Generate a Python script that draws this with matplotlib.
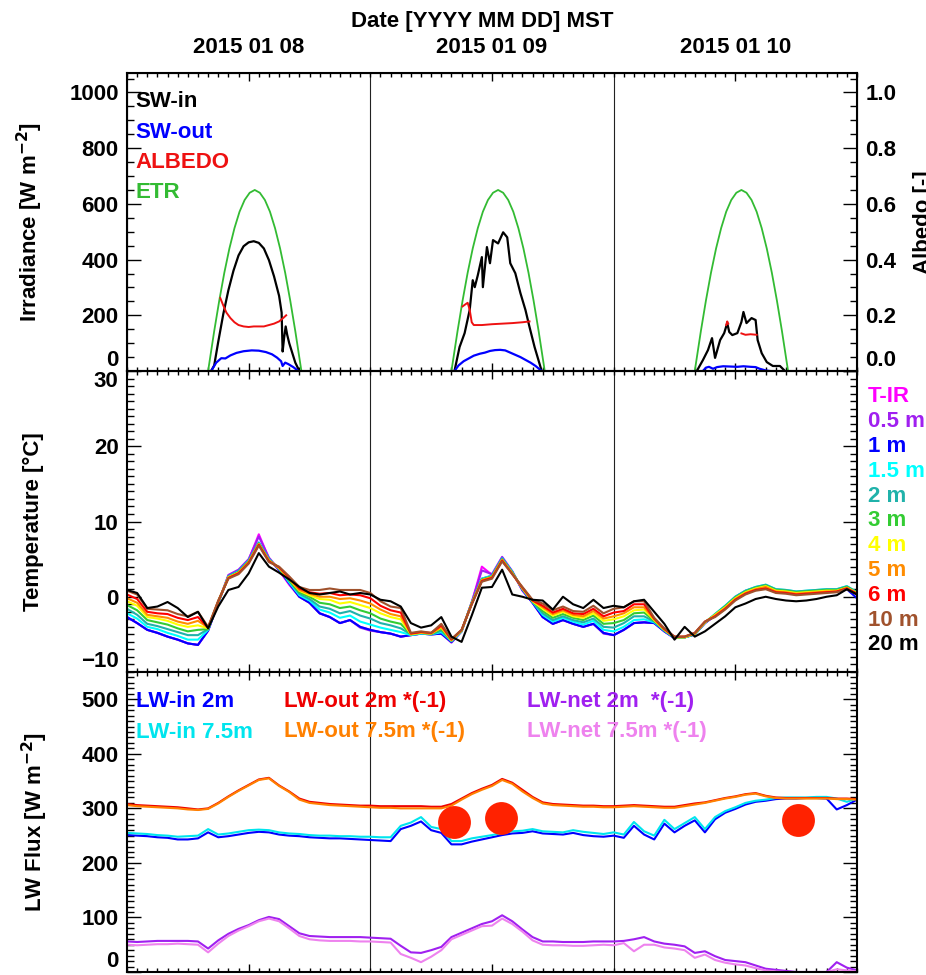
import numpy as np
import matplotlib
matplotlib.use("Agg")
import matplotlib.pyplot as plt
from matplotlib.ticker import MultipleLocator, FixedLocator

plt.rcParams['font.family'] = ['Liberation Sans', 'DejaVu Sans']
plt.rcParams['font.weight'] = 'bold'
plt.rcParams['font.size'] = 16
plt.rcParams['mathtext.default'] = 'bf'

# hours since 2015-01-08 00:00 MST
hours = np.arange(0, 73)
day_bounds = [24, 48]
noon_ticks = [12, 36, 60]
date_labels = ['2015 01 08', '2015 01 09', '2015 01 10']

# ---- shortwave panel (NaN splits the days)
swin_h = [8.3, 8.6, 9.0, 9.5, 10.0, 10.5, 11.0, 11.5, 12.0, 12.5, 13.0, 13.5, 14.0, 14.5, 15.0,
          15.25, 15.35, 15.5, 15.65, 15.8, 16.0, 16.3, 16.6, 17.0, np.nan,
          32.3, 32.8, 33.3, 33.8, 34.1, 34.3, 34.6, 35.0, 35.1, 35.5, 35.8, 36.1, 36.6, 37.1,
          37.5, 37.8, 38.3, 38.8, 39.3, 39.7, 40.2, 40.9, np.nan,
          56.2, 56.8, 57.3, 57.7, 58.0, 58.5, 58.9, 59.2, 59.4, 59.7, 60.2, 60.6, 60.8, 61.1,
          61.6, 62.0, 62.2, 62.6, 63.1, 63.7, 64.4, 64.9]
swin = [0, 20, 105, 205, 290, 360, 415, 448, 462, 466, 460, 440, 398, 340, 270,
        210, 70, 120, 160, 130, 100, 65, 30, 0, np.nan,
        0, 86, 136, 219, 326, 301, 344, 409, 301, 445, 387, 470, 458, 498,
        480, 387, 351, 280, 219, 158, 86, 0, np.nan,
        0, 39, 75, 118, 47, 111, 136, 172, 140, 129, 136, 176, 212, 172,
        190, 183, 111, 64, 32, 18, 18, 0]

swout_h = [8.3, 8.8, 9.3, 9.7, 10.2, 10.8, 11.5, 12.3, 13.0, 13.7, 14.3, 14.8, 15.2, 15.35,
           15.6, 15.9, 16.4, 16.9, np.nan,
           32.3, 32.7, 33.2, 33.7, 34.2, 34.8, 35.3, 35.8, 36.3, 36.8, 37.3, 37.8, 38.3, 38.8,
           39.3, 39.8, 40.3, 40.9, np.nan,
           56.8, 57.1, 57.4, 57.8, 58.2, 58.8, 59.5, 60.2, 60.8, 61.5, 62.0, 62.4, 63.0, 63.4]
swout = [0, 30, 46, 45, 56, 65, 71, 74, 73, 68, 60, 48, 35, 18, 30, 25, 14, 0, np.nan,
         0, 20, 35, 45, 55, 62, 66, 72, 75, 76, 74, 66, 58, 50, 40, 30, 18, 0, np.nan,
         0, 12, 15, 8, 14, 17, 16, 15, 17, 15, 14, 8, 2, 0]

albedo_h = [9.2, 9.5, 9.8, 10.2, 10.6, 11.0, 11.5, 12.0, 12.5, 13.0, 13.5, 14.0, 14.5, 15.0,
            15.4, 15.7, np.nan,
            33.1, 33.4, 33.6, 33.8, 34.0, 34.2, 35.0, 36.0, 37.0, 38.0, 39.0, 39.7, np.nan,
            59.1, 59.2, 59.3, np.nan, 60.6, 61.0, 61.5, 62.1]
albedo = [0.262, 0.235, 0.21, 0.19, 0.175, 0.165, 0.16, 0.158, 0.16, 0.16, 0.16, 0.165, 0.17,
          0.178, 0.19, 0.2, np.nan,
          0.232, 0.24, 0.245, 0.22, 0.175, 0.165, 0.165, 0.168, 0.17, 0.172, 0.175, 0.178, np.nan,
          0.165, 0.178, 0.17, np.nan, 0.135, 0.13, 0.132, 0.13]

# extraterrestrial radiation around solar noon (hours from noon)
etr_offset = [-4.6, -4.5, -4.0, -3.5, -3.0, -2.5, -2.0, -1.5, -1.0, -0.5, 0.0,
              0.5, 1.0, 1.5, 2.0, 2.5, 3.0, 3.5, 4.0, 4.5, 4.6]
etr_vals = [0, 24, 143, 253, 353, 440, 513, 572, 614, 640, 650,
            640, 614, 572, 513, 440, 353, 253, 143, 24, 0]
solar_noon = [12.6, 36.6, 60.6]

# ---- air temperature profile, hourly
t_labels = ['T-IR', '0.5 m', '1 m', '1.5 m', '2 m', '3 m', '4 m', '5 m', '6 m', '10 m', '20 m']
t_colors = ['#ff00ff', '#a020f0', '#0000ff', '#00ffff', '#20b2aa', '#33cc33',
            '#ffff00', '#ff8c00', '#ff0000', '#a0522d', '#000000']

t_ir = [-2.7, -3.5, -4.4, -4.8, -5.3, -5.7, -6.2, -6.4, -4.5, -0.8,
        2.8, 3.5, 4.9, 8.3, 5.1, 3.5, 1.6, 0.0, -0.8, -2.2,
        -2.7, -3.5, -3.1, -4.0, -4.4, -4.7, -4.9, -5.3, -5.1, -4.9,
        -5.0, -4.9, -6.0, -4.6, -0.8, 4.0, 2.9, 5.2, 3.3, 0.8,
        -0.8, -2.7, -3.6, -3.1, -3.6, -4.0, -3.6, -4.8, -5.1, -4.4,
        -3.5, -3.4, -3.5, -4.6, -5.5, -5.4, -5.0, -3.5, -2.5, -1.4,
        -0.1, 0.7, 1.1, 1.4, 0.8, 0.7, 0.5, 0.6, 0.7, 0.8,
        0.8, 1.2, 0.3]
t_05 = [-2.7, -3.5, -4.4, -4.8, -5.3, -5.7, -6.2, -6.4, -4.5, -0.8,
        2.9, 3.6, 5.0, 8.0, 5.2, 3.6, 1.7, 0.0, -0.8, -2.2,
        -2.7, -3.5, -3.1, -4.1, -4.5, -4.7, -4.9, -5.3, -5.1, -4.9,
        -5.0, -4.9, -6.1, -4.6, -0.7, 3.5, 3.0, 5.3, 3.4, 0.9,
        -0.8, -2.7, -3.6, -3.1, -3.6, -4.0, -3.6, -4.9, -5.1, -4.4,
        -3.5, -3.4, -3.5, -4.6, -5.5, -5.4, -5.0, -3.5, -2.4, -1.3,
        0.0, 0.8, 1.2, 1.5, 0.9, 0.8, 0.6, 0.7, 0.8, 0.9,
        0.9, 1.3, 0.4]
t_1 = [-2.7, -3.5, -4.4, -4.8, -5.3, -5.7, -6.2, -6.4, -4.5, -0.8,
       2.7, 3.4, 4.8, 7.2, 5.0, 3.6, 1.8, 0.0, -0.8, -2.2,
       -2.7, -3.5, -3.1, -4.0, -4.4, -4.7, -4.9, -5.3, -5.1, -4.9,
       -5.0, -4.9, -6.0, -4.6, -0.8, 2.4, 2.8, 5.1, 3.3, 0.9,
       -0.8, -2.7, -3.6, -3.1, -3.6, -4.0, -3.6, -4.8, -5.1, -4.4,
       -3.5, -3.4, -3.5, -4.6, -5.5, -5.4, -5.0, -3.5, -2.5, -1.4,
       -0.2, 0.6, 1.0, 1.2, 0.7, 0.6, 0.4, 0.5, 0.6, 0.7,
       0.7, 1.0, -0.2]
t_15 = [-2.2, -2.9, -4.0, -4.3, -4.8, -5.2, -5.7, -5.7, -4.4, -0.8,
        2.7, 3.4, 4.8, 7.2, 5.0, 3.7, 1.9, 0.2, -0.5, -1.7,
        -2.1, -2.8, -2.5, -3.3, -3.7, -4.1, -4.4, -4.7, -5.1, -4.9,
        -5.0, -4.7, -5.9, -4.6, -0.8, 2.4, 2.8, 5.1, 3.3, 1.0,
        -0.7, -2.4, -3.3, -2.8, -3.3, -3.7, -3.2, -4.4, -4.6, -4.0,
        -3.1, -3.0, -3.4, -4.5, -5.5, -5.4, -5.0, -3.5, -2.3, -1.2,
        0.0, 0.8, 1.3, 1.6, 1.0, 0.9, 0.7, 0.8, 0.9, 1.0,
        1.0, 1.4, 0.6]
t_2 = [-1.6, -2.4, -3.6, -3.9, -4.3, -4.7, -5.1, -5.1, -4.3, -0.7,
       2.7, 3.3, 4.7, 7.1, 4.9, 3.7, 2.1, 0.4, -0.3, -1.3,
       -1.6, -2.2, -1.9, -2.5, -2.9, -3.5, -3.8, -4.2, -5.0, -4.8,
       -5.0, -4.5, -5.9, -4.5, -0.8, 2.3, 2.7, 5.0, 3.2, 1.0,
       -0.7, -2.2, -3.1, -2.6, -3.1, -3.4, -2.9, -4.0, -4.1, -3.5,
       -2.6, -2.6, -3.3, -4.5, -5.4, -5.4, -5.0, -3.4, -2.3, -1.2,
       0.0, 0.8, 1.3, 1.6, 1.0, 0.9, 0.7, 0.8, 0.9, 1.0,
       1.0, 1.4, 0.6]
t_3 = [-1.1, -1.8, -3.1, -3.4, -3.7, -4.2, -4.6, -4.4, -4.3, -0.7,
       2.6, 3.3, 4.7, 7.1, 4.9, 3.8, 2.2, 0.6, 0.0, -0.8,
       -1.0, -1.5, -1.3, -1.8, -2.2, -2.9, -3.3, -3.6, -5.0, -4.8,
       -4.9, -4.3, -5.8, -4.5, -0.9, 2.3, 2.7, 5.0, 3.2, 1.1,
       -0.6, -1.9, -2.8, -2.3, -2.8, -3.1, -2.5, -3.6, -3.5, -3.1,
       -2.2, -2.1, -3.2, -4.4, -5.4, -5.4, -4.9, -3.4, -2.4, -1.3,
       -0.1, 0.7, 1.2, 1.5, 0.9, 0.8, 0.6, 0.7, 0.8, 0.9,
       0.9, 1.3, 0.5]
t_4 = [-0.6, -1.2, -2.7, -2.9, -3.2, -3.7, -4.0, -3.8, -4.2, -0.6,
       2.6, 3.2, 4.6, 7.0, 4.8, 3.8, 2.3, 0.8, 0.2, -0.3,
       -0.4, -0.9, -0.7, -1.1, -1.5, -2.2, -2.7, -3.0, -5.0, -4.8,
       -4.9, -4.1, -5.8, -4.5, -0.9, 2.2, 2.6, 4.9, 3.1, 1.1,
       -0.6, -1.6, -2.5, -2.0, -2.6, -2.8, -2.2, -3.2, -3.0, -2.6,
       -1.8, -1.7, -3.1, -4.4, -5.4, -5.4, -4.9, -3.4, -2.4, -1.4,
       -0.2, 0.6, 1.1, 1.4, 0.8, 0.7, 0.5, 0.6, 0.7, 0.8,
       0.8, 1.2, 0.5]
t_5 = [-0.2, -0.8, -2.4, -2.6, -2.8, -3.3, -3.6, -3.2, -4.1, -0.6,
       2.5, 3.2, 4.6, 7.0, 4.8, 3.9, 2.4, 0.9, 0.4, 0.0,
       0.0, -0.3, -0.2, -0.5, -0.9, -1.7, -2.3, -2.6, -4.9, -4.7,
       -4.9, -4.0, -5.7, -4.5, -0.9, 2.2, 2.6, 4.9, 3.1, 1.2,
       -0.5, -1.4, -2.3, -1.8, -2.4, -2.6, -1.9, -2.9, -2.6, -2.2,
       -1.4, -1.4, -3.0, -4.3, -5.4, -5.3, -4.9, -3.4, -2.5, -1.5,
       -0.3, 0.5, 1.0, 1.3, 0.7, 0.6, 0.4, 0.5, 0.6, 0.7,
       0.7, 1.2, 0.4]
t_6 = [0.3, -0.3, -2.0, -2.2, -2.3, -2.8, -3.1, -2.7, -4.1, -0.6,
       2.5, 3.1, 4.5, 6.9, 4.7, 3.9, 2.6, 1.1, 0.6, 0.4,
       0.5, 0.2, 0.3, 0.2, -0.2, -1.2, -1.8, -2.1, -4.9, -4.7,
       -4.8, -3.8, -5.7, -4.4, -1.0, 2.1, 2.5, 4.8, 3.0, 1.2,
       -0.5, -1.2, -2.1, -1.6, -2.2, -2.3, -1.6, -2.6, -2.1, -1.9,
       -1.0, -1.0, -2.9, -4.3, -5.3, -5.3, -4.8, -3.3, -2.6, -1.6,
       -0.4, 0.4, 0.9, 1.1, 0.6, 0.5, 0.3, 0.4, 0.5, 0.6,
       0.7, 1.1, 0.4]
t_10 = [0.8, 0.3, -1.6, -1.7, -1.8, -2.3, -2.6, -2.0, -4.0, -0.5,
        2.4, 3.0, 4.4, 6.8, 4.6, 4.0, 2.7, 1.3, 0.9, 0.9,
        1.1, 0.9, 0.9, 0.9, 0.5, -0.6, -1.3, -1.5, -4.8, -4.6,
        -4.8, -3.6, -5.6, -4.4, -1.0, 2.0, 2.4, 4.7, 3.0, 1.3,
        -0.4, -0.9, -1.8, -1.3, -1.9, -2.0, -1.2, -2.2, -1.6, -1.4,
        -0.6, -0.6, -2.8, -4.2, -5.3, -5.3, -4.8, -3.3, -2.7, -1.7,
        -0.5, 0.3, 0.8, 1.0, 0.5, 0.4, 0.2, 0.3, 0.4, 0.5,
        0.6, 1.0, 0.3]
t_20 = [0.9, 0.5, -1.5, -1.3, -0.7, -1.5, -2.7, -2.0, -4.2, -1.3,
        0.9, 1.3, 3.1, 5.8, 4.0, 3.2, 2.3, 1.3, 0.5, 0.3,
        0.5, 0.7, 0.3, 0.5, 0.3, -0.4, -0.6, -1.3, -3.5, -4.1,
        -3.8, -2.7, -5.3, -6.0, -2.5, 1.2, 1.3, 3.6, 0.3, 0.0,
        -0.4, -0.5, -1.7, 0.0, -1.0, -1.5, -0.4, -1.5, -1.2, -1.4,
        -0.6, -0.4, -2.0, -3.6, -5.7, -4.0, -5.3, -4.6, -3.6, -2.6,
        -1.4, -0.9, -0.3, 0.0, -0.3, -0.5, -0.6, -0.5, -0.3, 0.0,
        0.2, 1.0, 0.3]
t_series = [t_ir, t_05, t_1, t_15, t_2, t_3, t_4, t_5, t_6, t_10, t_20]

# ---- longwave fluxes, hourly (out and net multiplied by -1)
lwin_2m = [251, 250, 249, 247, 246, 243, 243, 245, 256, 247,
           249, 252, 255, 257, 256, 252, 250, 249, 247, 246,
           245, 245, 244, 243, 242, 241, 240, 262, 268, 276,
           260, 255, 234, 234, 239, 243, 247, 251, 254, 255,
           258, 254, 253, 252, 255, 251, 249, 248, 250, 246,
           268, 252, 243, 272, 256, 268, 278, 256, 280, 292,
           299, 307, 312, 314, 317, 318, 318, 319, 319, 318,
           298, 306, 316]
lwin_75m = [255, 254, 253, 251, 250, 248, 249, 250, 262, 252,
            254, 257, 260, 261, 260, 256, 254, 253, 251, 250,
            250, 249, 249, 248, 248, 247, 247, 268, 274, 284,
            266, 262, 240, 240, 245, 248, 251, 255, 258, 259,
            262, 258, 257, 256, 260, 257, 255, 253, 256, 252,
            275, 258, 250, 279, 262, 273, 284, 262, 284, 295,
            302, 310, 314, 316, 319, 320, 320, 320, 321, 321,
            318, 312, 318]
lwout_2m = [308, 306, 305, 304, 303, 302, 300, 298, 300, 310,
            322, 333, 343, 353, 356, 342, 331, 318, 312, 310,
            308, 307, 306, 305, 305, 304, 304, 304, 304, 304,
            303, 303, 308, 318, 328, 336, 343, 354, 347, 334,
            321, 311, 308, 307, 306, 305, 305, 304, 304, 305,
            306, 305, 304, 303, 303, 306, 309, 311, 315, 319,
            322, 326, 328, 323, 320, 319, 319, 319, 319, 319,
            318, 318, 317]
lwout_75m = [306, 304, 303, 302, 301, 300, 298, 297, 299, 309,
             321, 332, 342, 352, 355, 341, 330, 316, 310, 308,
             306, 305, 304, 303, 302, 301, 301, 300, 300, 300,
             300, 300, 305, 316, 326, 334, 341, 352, 345, 331,
             319, 309, 306, 305, 304, 303, 303, 302, 302, 303,
             304, 303, 302, 301, 301, 304, 307, 310, 314, 318,
             321, 325, 327, 322, 319, 318, 318, 318, 318, 318,
             317, 317, 316]
lwnet_2m = [56, 55, 56, 57, 57, 57, 57, 56, 43, 58,
            70, 79, 86, 95, 101, 97, 84, 71, 66, 65,
            64, 64, 64, 64, 63, 62, 61, 48, 36, 35,
            40, 46, 64, 72, 80, 88, 93, 104, 93, 78,
            64, 56, 56, 55, 55, 55, 56, 56, 56, 57,
            60, 64, 56, 52, 50, 47, 35, 38, 29, 22,
            20, 18, 12, 6, 4, 2, 0, 0, 0, 0,
            18, 8, 3]
lwnet_75m = [50, 49, 50, 51, 51, 52, 51, 50, 36, 52,
             66, 76, 84, 93, 98, 93, 80, 66, 60, 58,
             57, 57, 57, 56, 56, 55, 54, 33, 26, 18,
             28, 40, 60, 68, 76, 84, 85, 98, 88, 74,
             58, 50, 49, 49, 48, 48, 49, 50, 49, 53,
             38, 50, 50, 45, 43, 40, 26, 32, 22, 17,
             14, 12, 7, 3, 1, 0, 0, 0, 0, 0,
             5, 3, 1]

lw_series = [lwin_2m, lwin_75m, lwout_2m, lwout_75m, lwnet_2m, lwnet_75m]
lw_labels = ['LW-in 2m', 'LW-in 7.5m', 'LW-out 2m *(-1)', 'LW-out 7.5m *(-1)',
             'LW-net 2m  *(-1)', 'LW-net 7.5m *(-1)']
lw_colors = ['#0000ff', '#00e5ee', '#ee0000', '#ff8000', '#a020f0', '#ee82ee']

# highlighted points on the LW panel
mark_h = [32.3, 36.9, 66.2]
mark_flux = [275, 283, 279]

fig = plt.figure(figsize=(9.26, 9.75), dpi=100)
L, W = 127 / 926, 730 / 926
ax1 = fig.add_axes([L, 1 - 371 / 975, W, 298 / 975])
ax2 = fig.add_axes([L, 1 - 672 / 975, W, 301 / 975])
ax3 = fig.add_axes([L, 1 - 972 / 975, W, 300 / 975])


def style_x(ax):
    ax.set_xlim(0, 72)
    ax.xaxis.set_major_locator(FixedLocator(noon_ticks))
    ax.xaxis.set_minor_locator(MultipleLocator(1))
    ax.tick_params(axis='x', which='both', direction='in', top=True, bottom=True,
                   labelbottom=False, width=1)
    ax.tick_params(axis='x', which='major', length=6)
    ax.tick_params(axis='x', which='minor', length=3)
    ax.tick_params(axis='y', which='both', direction='in', width=1, pad=6)
    ax.tick_params(axis='y', which='major', length=10)
    ax.tick_params(axis='y', which='minor', length=5)
    for s in ax.spines.values():
        s.set_linewidth(1.5)
    for d in day_bounds:
        ax.axvline(d, color='#222222', lw=0.8, zorder=1)


def nudge_end_labels(ax, low=None, high=None):
    # keep the end labels clear of the neighbouring panel
    fig.canvas.draw()
    labels = ax.get_yticklabels()
    if low is not None:
        labels[0].set_verticalalignment(low)
    if high is not None:
        labels[-1].set_verticalalignment(high)


# top: shortwave + albedo
style_x(ax1)
ax1.plot(swin_h, swin, color='black', lw=1.6)
ax1.plot(swout_h, swout, color='#0000ff', lw=1.6)
for noon in solar_noon:
    ax1.plot(noon + np.array(etr_offset), etr_vals, color='#33bb33', lw=1.3)
ax1.set_ylim(0, 1070)
ax1.set_yticks([0, 200, 400, 600, 800, 1000])
ax1.yaxis.set_minor_locator(MultipleLocator(50))
ax1.tick_params(axis='x', labeltop=True, pad=11)
ax1.set_xticklabels(date_labels)
ax1b = ax1.twinx()
ax1b.plot(albedo_h, albedo, color='#ee1111', lw=1.4)
ax1b.set_ylim(0, 1.07)
ax1b.set_yticks([0.0, 0.2, 0.4, 0.6, 0.8, 1.0])
ax1b.set_yticklabels(['0.0', '0.2', '0.4', '0.6', '0.8', '1.0'])
ax1b.yaxis.set_minor_locator(MultipleLocator(0.05))
ax1b.tick_params(axis='y', which='both', direction='in', width=1, pad=6)
ax1b.tick_params(axis='y', which='major', length=10)
ax1b.tick_params(axis='y', which='minor', length=5)
ax1.tick_params(axis='y', right=False)

sw_labels = ['SW-in', 'SW-out', 'ALBEDO', 'ETR']
sw_colors = ['black', '#0000ff', '#ee1111', '#33bb33']
for i, (lab, c) in enumerate(zip(sw_labels, sw_colors)):
    ax1.text(0.012, 0.903 - i * 0.101, lab, color=c, transform=ax1.transAxes,
             ha='left', va='center')

# middle: temperatures
style_x(ax2)
for ser, c in zip(t_series, t_colors):
    ax2.plot(hours, ser, color=c, lw=1.5)
ax2.set_ylim(-10, 30)
ax2.set_yticks([-10, 0, 10, 20, 30])
ax2.yaxis.set_minor_locator(MultipleLocator(1))
ax2.tick_params(axis='y', which='both', right=True)
for i, (lab, c) in enumerate(zip(t_labels, t_colors)):
    fig.text(868 / 926, 1 - (397 + i * 24.8) / 975, lab, color=c, ha='left', va='center')

# bottom: longwave
style_x(ax3)
for ser, c in zip(lw_series, lw_colors):
    ax3.plot(hours, ser, color=c, lw=1.5)
ax3.scatter(mark_h, mark_flux, s=560, color='#ff2200', zorder=10, linewidths=0)
ax3.set_ylim(0, 550)
ax3.set_yticks([0, 100, 200, 300, 400, 500])
ax3.yaxis.set_minor_locator(MultipleLocator(10))
ax3.tick_params(axis='y', which='both', right=True)
lw_pos = [(0.012, 0.903), (0.012, 0.80), (0.215, 0.903), (0.215, 0.80),
          (0.548, 0.903), (0.548, 0.80)]
for (x, y), lab, c in zip(lw_pos, lw_labels, lw_colors):
    ax3.text(x, y, lab, color=c, transform=ax3.transAxes, ha='left', va='center')

nudge_end_labels(ax1, low='bottom')
nudge_end_labels(ax1b, low='bottom')
nudge_end_labels(ax2, low='bottom', high='top')
nudge_end_labels(ax3, low='bottom')

# axis titles
fig.text(482 / 926, 1 - 22 / 975, 'Date [YYYY MM DD] MST', ha='center', va='center')
fig.text(30 / 926, 1 - 222 / 975, 'Irradiance [W m$^{-2}$]', rotation=90,
         ha='center', va='center')
fig.text(33 / 926, 1 - 522 / 975, 'Temperature [\u00b0C]', rotation=90,
         ha='center', va='center')
fig.text(35 / 926, 1 - 822 / 975, 'LW Flux [W m$^{-2}$]', rotation=90,
         ha='center', va='center')
fig.text(913 / 926, 1 - 222 / 975, 'Albedo [-]', rotation=90, ha='left', va='center')

fig.savefig('out.png', dpi=100)
